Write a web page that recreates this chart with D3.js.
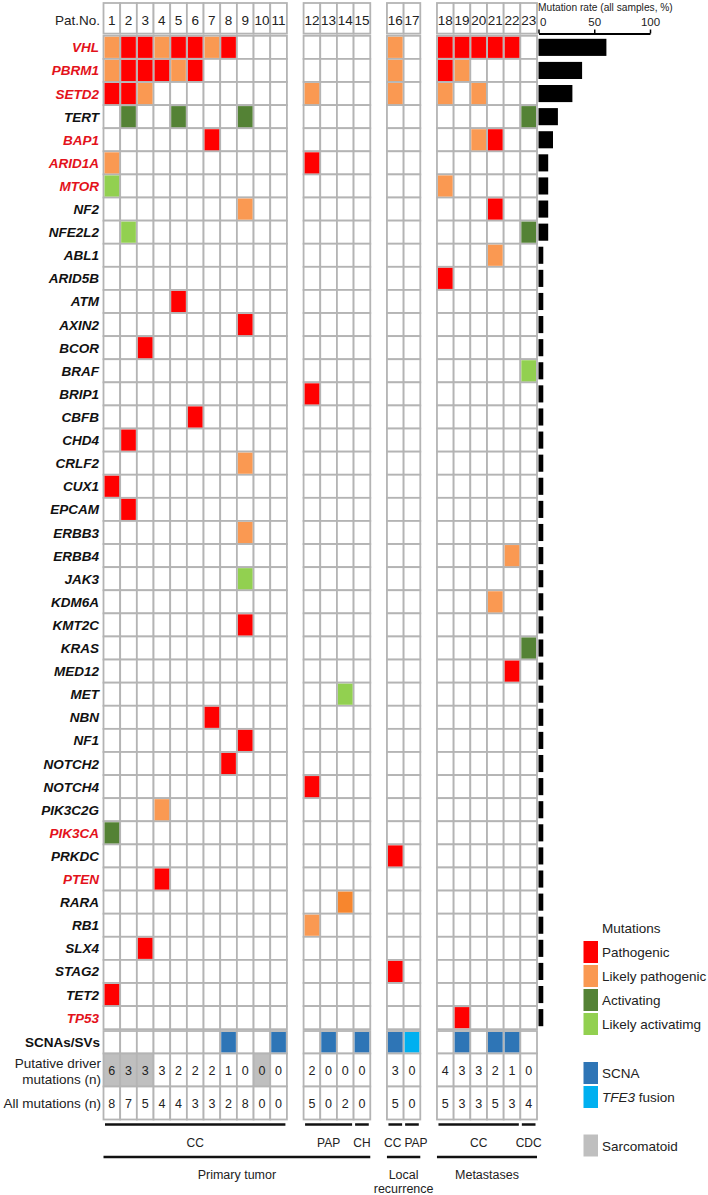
<!DOCTYPE html>
<html><head><meta charset="utf-8">
<script src="https://cdn.jsdelivr.net/npm/d3@7"></script>
<style>body{margin:0;background:#fff;} svg{display:block;font-family:"Liberation Sans",Arial,sans-serif;}</style>
</head><body>
<script>
// ---------- DATA ----------
const patients = ["1","2","3","4","5","6","7","8","9","10","11","12","13","14","15","16","17","18","19","20","21","22","23"];
const slots = ["1","2","3","4","5","6","7","8","9","10","11","gapA","12","13","14","15","gapB","16","17","gapC","18","19","20","21","22","23"];
const genes = ["VHL","PBRM1","SETD2","TERT","BAP1","ARID1A","MTOR","NF2","NFE2L2","ABL1","ARID5B","ATM","AXIN2","BCOR","BRAF","BRIP1","CBFB","CHD4","CRLF2","CUX1","EPCAM","ERBB3","ERBB4","JAK3","KDM6A","KMT2C","KRAS","MED12","MET","NBN","NF1","NOTCH2","NOTCH4","PIK3C2G","PIK3CA","PRKDC","PTEN","RARA","RB1","SLX4","STAG2","TET2","TP53"];
const redGenes = ["VHL","PBRM1","SETD2","BAP1","ARID1A","MTOR","PIK3CA","PTEN","TP53"];
// [gene, patient, type]  P=pathogenic, LP=likely pathogenic, A=activating, LA=likely activating
const mutations = [
 ["VHL","1","LP"],["VHL","2","P"],["VHL","3","P"],["VHL","4","LP"],["VHL","5","P"],["VHL","6","P"],["VHL","7","LP"],["VHL","8","P"],["VHL","16","LP"],["VHL","18","P"],["VHL","19","P"],["VHL","20","P"],["VHL","21","P"],["VHL","22","P"],
 ["PBRM1","1","LP"],["PBRM1","2","P"],["PBRM1","3","P"],["PBRM1","4","P"],["PBRM1","5","LP"],["PBRM1","6","P"],["PBRM1","16","LP"],["PBRM1","18","P"],["PBRM1","19","LP"],
 ["SETD2","1","P"],["SETD2","2","P"],["SETD2","3","LP"],["SETD2","12","LP"],["SETD2","16","LP"],["SETD2","18","LP"],["SETD2","20","LP"],
 ["TERT","2","A"],["TERT","5","A"],["TERT","9","A"],["TERT","23","A"],
 ["BAP1","7","P"],["BAP1","20","LP"],["BAP1","21","P"],
 ["ARID1A","1","LP"],["ARID1A","12","P"],
 ["MTOR","1","LA"],["MTOR","18","LP"],
 ["NF2","9","LP"],["NF2","21","P"],
 ["NFE2L2","2","LA"],["NFE2L2","23","A"],
 ["ABL1","21","LP"],["ARID5B","18","P"],["ATM","5","P"],["AXIN2","9","P"],["BCOR","3","P"],
 ["BRAF","23","LA"],["BRIP1","12","P"],["CBFB","6","P"],["CHD4","2","P"],["CRLF2","9","LP"],
 ["CUX1","1","P"],["EPCAM","2","P"],["ERBB3","9","LP"],["ERBB4","22","LP"],["JAK3","9","LA"],
 ["KDM6A","21","LP"],["KMT2C","9","P"],["KRAS","23","A"],["MED12","22","P"],["MET","14","LA"],
 ["NBN","7","P"],["NF1","9","P"],["NOTCH2","8","P"],["NOTCH4","12","P"],["PIK3C2G","4","LP"],
 ["PIK3CA","1","A"],["PRKDC","16","P"],["PTEN","4","P"],["RARA","14","LP2"],["RB1","12","LP"],
 ["SLX4","3","P"],["STAG2","16","P"],["TET2","1","P"],["TP53","19","P"]
];
const mutationRate = [60.9,39.1,30.4,17.4,13.0,8.7,8.7,8.7,8.7,4.3,4.3,4.3,4.3,4.3,4.3,4.3,4.3,4.3,4.3,4.3,4.3,4.3,4.3,4.3,4.3,4.3,4.3,4.3,4.3,4.3,4.3,4.3,4.3,4.3,4.3,4.3,4.3,4.3,4.3,4.3,4.3,4.3,4.3];
const rateTicks = [0,50,100];
const svEvents = [["8","SCNA"],["11","SCNA"],["13","SCNA"],["15","SCNA"],["16","SCNA"],["17","TFE3"],["19","SCNA"],["21","SCNA"],["22","SCNA"]];
const driverCounts = [6,3,3,3,2,2,2,1,0,0,0,2,0,0,0,3,0,4,3,3,2,1,0];
const allCounts = [8,7,5,4,4,3,3,2,8,0,0,5,0,2,0,5,0,5,3,3,5,3,4];
const sarcomatoid = ["1","2","3","10"];
const histology = [["CC","1","11"],["PAP","12","14"],["CH","15","15"],["CC","16","16"],["PAP","17","17"],["CC","18","22"],["CDC","23","23"]];
const sites = [[["Primary tumor"],"1","15"],[["Local","recurrence"],"16","17"],[["Metastases"],"18","23"]];
const mutLegend = [["P","Pathogenic"],["LP","Likely pathogenic"],["A","Activating"],["LA","Likely activatimg"]];

// ---------- STYLES ----------
const colors = {P:"#ff0000",LP:"#fa9952",LP2:"#f7862e",A:"#548235",LA:"#92d050",SCNA:"#2e75b6",TFE3:"#00b0f0",SARC:"#bfbfbf"};
const histLabelShift = [0,0,0,-2.5,4,0,0];
const gridCol = "#b4b4b4";
const W = 708, H = 1195;

const svg = d3.select("body").append("svg").attr("width",W).attr("height",H);
svg.append("rect").attr("width",W).attr("height",H).attr("fill","#fff");

const x = d3.scaleBand().domain(slots).range([103.5, 537.0]).padding(0);
const y = d3.scaleBand().domain(genes).range([35.8, 1029.2]).padding(0);
const cw = x.bandwidth(), rh = y.bandwidth();

const headerTop = 3, headerBot = 33.6;
const svTop = 1031, svBot = 1053.5, drvBot = 1086.5, allBot = 1119.5;

const g = svg.append("g");

// header cells
g.selectAll("rect.hdr").data(patients).join("rect")
 .attr("x",d=>x(d)).attr("y",headerTop).attr("width",cw).attr("height",headerBot-headerTop)
 .attr("fill","#fff").attr("stroke",gridCol).attr("stroke-width",1.8);
g.selectAll("text.hdr").data(patients).join("text")
 .attr("x",d=>x(d)+cw/2).attr("y",25).attr("text-anchor","middle")
 .attr("font-size",13.5).attr("fill","#222").text(d=>d);
g.append("text").attr("x",100).attr("y",25).attr("text-anchor","end").attr("font-size",13.5).attr("fill","#222").text("Pat.No.");

// gene grid
const cells = [];
genes.forEach(gn=>patients.forEach(p=>cells.push({g:gn,p})));
g.selectAll("rect.cell").data(cells).join("rect")
 .attr("x",d=>x(d.p)).attr("y",d=>y(d.g)).attr("width",cw).attr("height",rh)
 .attr("fill","#fff").attr("stroke",gridCol).attr("stroke-width",1.8);
g.selectAll("rect.mut").data(mutations).join("rect")
 .attr("x",d=>x(d[1])+1).attr("y",d=>y(d[0])+1).attr("width",cw-2).attr("height",rh-2)
 .attr("fill",d=>colors[d[2]]);

// gene labels
g.selectAll("text.gene").data(genes).join("text")
 .attr("x",99).attr("y",d=>y(d)+rh/2+5).attr("text-anchor","end")
 .attr("font-size",13.5).attr("font-weight","bold").attr("font-style","italic")
 .attr("fill",d=>redGenes.includes(d)?"#e3121b":"#111").text(d=>d);

// SV row
g.selectAll("rect.sv").data(patients).join("rect")
 .attr("x",d=>x(d)).attr("y",svTop).attr("width",cw).attr("height",svBot-svTop)
 .attr("fill","#fff").attr("stroke",gridCol).attr("stroke-width",1.8);
g.selectAll("rect.svc").data(svEvents).join("rect")
 .attr("x",d=>x(d[0])+1).attr("y",svTop+1).attr("width",cw-2).attr("height",svBot-svTop-2)
 .attr("fill",d=>colors[d[1]]);
g.append("text").attr("x",100).attr("y",(svTop+svBot)/2+5).attr("text-anchor","end")
 .attr("font-size",13.5).attr("font-weight","bold").attr("fill","#111").text("SCNAs/SVs");

// count rows
function countRow(vals, top, bot, shade){
  g.selectAll(null).data(patients).join("rect")
   .attr("x",d=>x(d)).attr("y",top).attr("width",cw).attr("height",bot-top)
   .attr("fill",d=>shade && sarcomatoid.includes(d)?colors.SARC:"#fff")
   .attr("stroke",gridCol).attr("stroke-width",1.8);
  g.selectAll(null).data(patients).join("text")
   .attr("x",d=>x(d)+cw/2).attr("y",(top+bot)/2+4.5).attr("text-anchor","middle")
   .attr("font-size",12.5).attr("fill","#222").text((d,i)=>vals[i]);
}
countRow(driverCounts, svBot, drvBot, true);
countRow(allCounts, drvBot, allBot, false);
g.append("text").attr("x",101).attr("y",1068).attr("text-anchor","end").attr("font-size",13.5).attr("fill","#222").text("Putative driver");
g.append("text").attr("x",101).attr("y",1084).attr("text-anchor","end").attr("font-size",13.5).attr("fill","#222").text("mutations (n)");
g.append("text").attr("x",101).attr("y",(drvBot+allBot)/2+5).attr("text-anchor","end").attr("font-size",13.5).attr("fill","#222").text("All mutations (n)");

// histology brackets
const hist = g.selectAll("g.hist").data(histology).join("g");
hist.append("line")
 .attr("x1",d=>x(d[1])+1.5).attr("x2",d=>x(d[2])+cw-1.5).attr("y1",1124.5).attr("y2",1124.5)
 .attr("stroke","#111").attr("stroke-width",2.5);
hist.append("text")
 .attr("x",(d,i)=>(x(d[1])+x(d[2])+cw)/2+histLabelShift[i]).attr("y",1146.5).attr("text-anchor","middle")
 .attr("font-size",12).attr("fill","#222").text(d=>d[0]);
const site = g.selectAll("g.site").data(sites).join("g");
site.append("line")
 .attr("x1",d=>x(d[1])).attr("x2",d=>x(d[2])+cw).attr("y1",1157).attr("y2",1157)
 .attr("stroke","#111").attr("stroke-width",2.5);
site.each(function(d){
  const cx = (x(d[1])+x(d[2])+cw)/2;
  d3.select(this).selectAll("text").data(d[0]).join("text")
   .attr("x",cx).attr("y",(t,i)=>1179+i*13.5).attr("text-anchor","middle")
   .attr("font-size",12.5).attr("fill","#222").text(t=>t);
});

// bar chart
const xr = d3.scaleLinear().domain([0,100]).range([538.5,650]);
const axis = d3.axisTop(xr).tickValues(rateTicks).tickSize(4).tickSizeOuter(0);
const ax = svg.append("g").attr("transform","translate(0,33.5)").call(axis);
ax.select(".domain").attr("stroke","#000").attr("stroke-width",2);
ax.selectAll(".tick line").attr("stroke","#000").attr("stroke-width",1.5);
ax.selectAll(".tick text").attr("font-size",11.5).attr("fill","#222").attr("font-family","Liberation Sans, Arial, sans-serif").attr("dy","-0.05em");
ax.selectAll(".tick").filter(d=>d===0).select("text").attr("text-anchor","start").attr("dx","1");
svg.append("text").attr("x",538).attr("y",11).attr("font-size",10.2).attr("fill","#222").text("Mutation rate (all samples, %)");
svg.selectAll("rect.bar").data(genes).join("rect")
 .attr("x",xr(0)).attr("y",d=>y(d)+3).attr("height",rh-6)
 .attr("width",(d,i)=>xr(mutationRate[i])-xr(0)).attr("fill","#000");

// legends
const lg = svg.append("g");
lg.append("text").attr("x",602).attr("y",933).attr("font-size",13.5).attr("fill","#222").text("Mutations");
const ml = lg.selectAll("g.ml").data(mutLegend).join("g").attr("transform",(d,i)=>`translate(583.5,${941+i*24})`);
ml.append("rect").attr("width",14.5).attr("height",22).attr("fill",d=>colors[d[0]]);
ml.append("text").attr("x",18.5).attr("y",16).attr("font-size",13.5).attr("fill","#222").text(d=>d[1]);

const sl = [["SCNA",1062],["TFE3",1086],["SARC",1134.5]];
lg.selectAll("rect.sl").data(sl).join("rect").attr("x",583.5).attr("y",d=>d[1]).attr("width",14.5).attr("height",22).attr("fill",d=>colors[d[0]]);
lg.append("text").attr("x",602).attr("y",1078).attr("font-size",13.5).attr("fill","#222").text("SCNA");
const tf = lg.append("text").attr("x",602).attr("y",1102).attr("font-size",13.5).attr("fill","#222");
tf.append("tspan").attr("font-style","italic").text("TFE3");
tf.append("tspan").text(" fusion");
lg.append("text").attr("x",602).attr("y",1150.5).attr("font-size",13.5).attr("fill","#222").text("Sarcomatoid");
</script>
</body></html>
